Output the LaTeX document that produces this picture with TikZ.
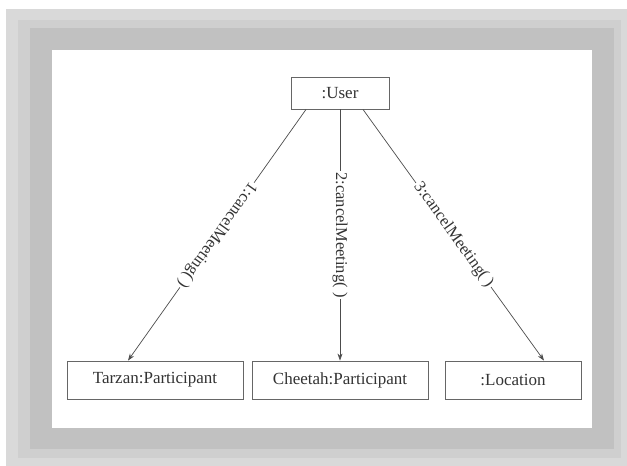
\documentclass[tikz,border=0pt]{standalone}
\usepackage{fontspec}
\setmainfont{Liberation Serif}
\usetikzlibrary{arrows.meta,calc}
\definecolor{marcoClaro}{HTML}{D9D9D9}
\definecolor{marcoMedio}{HTML}{CFCFCF}
\definecolor{marcoOscuro}{HTML}{C1C1C1}
\definecolor{tinta}{HTML}{333333}

\begin{document}
\begin{tikzpicture}[x=1pt,y=-1pt,>=Stealth,
  objeto/.style={draw=black!60,line width=0.9pt,fill=white,text=tinta,
    minimum height=38pt,inner sep=0pt,font=\fontsize{17}{19}\selectfont},
  mensaje/.style={draw=black!70,line width=0.7pt,
    -{Stealth[length=7pt,width=5pt]}},
  etiqueta/.style={midway,sloped,allow upside down,fill=white,text=tinta,
    inner sep=1.5pt,font=\fontsize{16.5}{18}\selectfont}]
  \useasboundingbox (0,0) rectangle (627,466);
  \fill[white] (0,0) rectangle (627,466);
  \fill[marcoClaro] (6,9) rectangle (627,466);
  \fill[marcoMedio] (18,20) rectangle (621,458);
  \fill[marcoOscuro] (30,28) rectangle (614,449);
  \fill[white] (52,50) rectangle (592,428);
  \node[objeto,minimum width=98pt,minimum height=32pt] (user) at (340,93) {:User};
  \node[objeto,minimum width=176pt] (tarzan) at (155,380) {Tarzan:Participant};
  \node[objeto,minimum width=176pt] (cheetah) at (340,380) {Cheetah:Participant};
  \node[objeto,minimum width=136pt] (location) at (513,380) {:Location};
  \draw[mensaje] ($(user.south)+(-34,0)$) -- ($(tarzan.north)+(-27,0)$)
    node[etiqueta]{1:cancelMeeting( )};
  \draw[mensaje] (user.south) -- (cheetah.north)
    node[etiqueta]{2:cancelMeeting( )};
  \draw[mensaje] ($(user.south)+(23,0)$) -- ($(location.north)+(31,0)$)
    node[etiqueta]{3:cancelMeeting( )};
\end{tikzpicture}
\end{document}
